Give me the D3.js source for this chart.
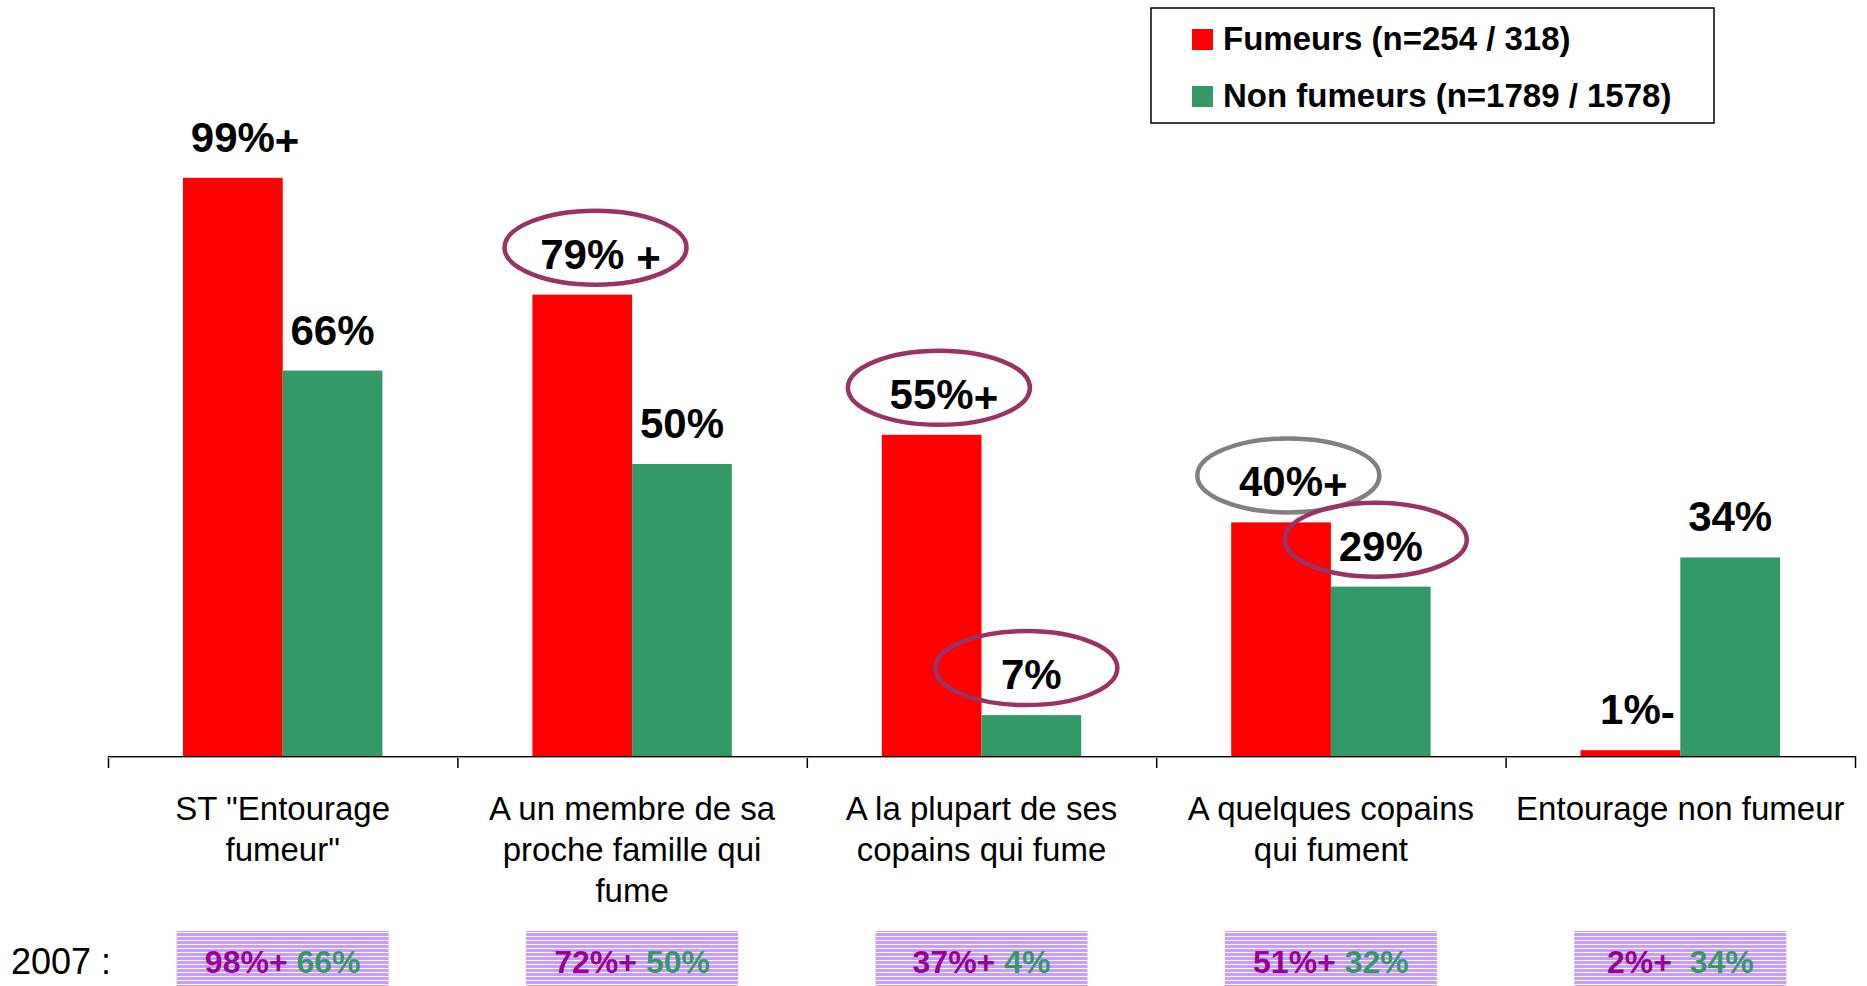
<!DOCTYPE html>
<html>
<head>
<meta charset="utf-8">
<script src="https://cdn.jsdelivr.net/npm/d3@7"></script>
<style>
  body { margin: 0; background: #fff; }
  text { font-family: "Liberation Sans", Arial, sans-serif; }
</style>
</head>
<body>
<script>
// chart values
const categories = ['ST "Entourage fumeur"', 'A un membre de sa proche famille qui fume',
  'A la plupart de ses copains qui fume', 'A quelques copains qui fument', 'Entourage non fumeur']
const categoryLines = [
  ['ST "Entourage', 'fumeur"'],
  ['A un membre de sa', 'proche famille qui', 'fume'],
  ['A la plupart de ses', 'copains qui fume'],
  ['A quelques copains', 'qui fument'],
  ['Entourage non fumeur']
]
const series = ['Fumeurs (n=254 / 318)', 'Non fumeurs (n=1789 / 1578)']
const fumeurs = [99, 79, 55, 40, 1]
const nonFumeurs = [66, 50, 7, 29, 34]
// significance marks written after the value
const fumeursMarks = ['+', ' +', '+', '+', '-']
const nonFumeursMarks = ['', '', '', '', '']
// circled labels : [category index, series index, tone]
const circled = [[1, 0, 'sig'], [2, 0, 'sig'], [2, 1, 'sig'], [3, 0, 'grey'], [3, 1, 'sig']]
// 2007 reminder
const fumeurs2007 = ['98%+', '72%+', '37%+', '51%+', '2%+ ']
const nonFumeurs2007 = ['66%', '50%', '4%', '32%', '34%']
const label2007 = '2007 :'

const W = 1867
const H = 986
const colors = ['#ff0000', '#339966']
const values = [fumeurs, nonFumeurs]
const marks = [fumeursMarks, nonFumeursMarks]

const svg = d3.select('body').append('svg')
  .attr('width', W)
  .attr('height', H)

svg.append('rect').attr('width', W).attr('height', H).attr('fill', '#fff')

// striped lavender fill for the 2007 boxes
const pattern = svg.append('defs').append('pattern')
  .attr('id', 'stripes')
  .attr('patternUnits', 'userSpaceOnUse')
  .attr('width', 8)
  .attr('height', 4)
pattern.append('rect').attr('width', 8).attr('height', 4).attr('fill', '#cc99ff')
pattern.append('rect').attr('width', 8).attr('height', 1).attr('fill', '#fff')

//scales
const x0 = d3.scaleBand()
  .domain(categories)
  .range([108, 1855])

const x1 = d3.scaleBand()
  .domain([0, 1])
  .range([0, x0.bandwidth()])
  .paddingOuter(0.752)

const y = d3.scaleLinear()
  .domain([0, 100])
  .range([756, 172])

const edges = d3.scaleLinear()
  .domain([0, categories.length])
  .range(x0.range())

//bars
const groups = svg.selectAll('g.cat')
  .data(categories)
  .enter()
  .append('g')
  .attr('class', 'cat')
  .attr('transform', d => `translate(${x0(d)},0)`)

groups.selectAll('rect')
  .data((d, i) => values.map((v, s) => ({ s, i, v: v[i] })))
  .enter()
  .append('rect')
  .attr('x', d => x1(d.s))
  .attr('y', d => y(d.v))
  .attr('width', x1.bandwidth())
  .attr('height', d => y(0) - y(d.v))
  .attr('fill', d => colors[d.s])

//axis
const axis = svg.append('g')
  .attr('transform', `translate(0,${y(0)})`)
  .call(d3.axisBottom(edges)
    .tickValues(d3.range(categories.length + 1))
    .tickFormat('')
    .tickSize(12)
    .tickSizeOuter(0))
axis.select('.domain').attr('stroke', '#000').attr('stroke-width', 1.2)
axis.selectAll('.tick line').attr('stroke', '#000').attr('stroke-width', 1.5)
svg.append('line')
  .attr('x1', edges(0)).attr('x2', edges(categories.length))
  .attr('y1', y(0) + 1.5).attr('y2', y(0) + 1.5)
  .attr('stroke', '#999').attr('stroke-width', 1)

//category labels
categories.forEach((c, i) => {
  const t = svg.append('text')
    .attr('text-anchor', 'middle')
    .attr('font-size', 33)
    .attr('fill', '#000')
  categoryLines[i].forEach((line, k) => {
    t.append('tspan')
      .attr('x', x0(c) + x0.bandwidth() / 2)
      .attr('y', 820 + k * 41)
      .text(line)
  })
})

//value labels
const labelPos = {}
categories.forEach((c, i) => {
  values.forEach((v, s) => {
    const cx = x0(c) + x1(s) + x1.bandwidth() / 2
    const base = y(v[i]) - 26
    const main = svg.append('text')
      .attr('x', cx)
      .attr('y', base)
      .attr('text-anchor', 'middle')
      .attr('font-size', 42)
      .attr('font-weight', 'bold')
      .text(v[i] + '%')
    const len = main.node().getComputedTextLength()
    let extra = 0
    const m = marks[s][i]
    if (m) {
      const mk = svg.append('text')
        .attr('x', cx + len / 2 + (m.startsWith(' ') ? 12 : 0))
        .attr('y', base + 3)
        .attr('font-size', 42)
        .attr('font-weight', 'bold')
        .text(m.trim())
      extra = (m.startsWith(' ') ? 12 : 0) + mk.node().getComputedTextLength()
    }
    labelPos[i + '-' + s] = { x: cx + extra / 2, y: base }
  })
})

//circles drawn round some labels
circled.forEach(([i, s, tone]) => {
  const p = labelPos[i + '-' + s]
  svg.append('ellipse')
    .attr('cx', p.x - 5)
    .attr('cy', p.y - 21)
    .attr('rx', 91)
    .attr('ry', 37)
    .attr('fill', 'none')
    .attr('stroke', tone === 'grey' ? '#808080' : '#993366')
    .attr('stroke-width', 4.5)
})

//legend
const legend = svg.append('g')
legend.append('rect')
  .attr('x', 1151).attr('y', 8)
  .attr('width', 563).attr('height', 115)
  .attr('fill', '#fff')
  .attr('stroke', '#000')
  .attr('stroke-width', 1.5)
series.forEach((name, s) => {
  legend.append('rect')
    .attr('x', 1192).attr('y', 29 + s * 57)
    .attr('width', 21).attr('height', 21)
    .attr('fill', colors[s])
  legend.append('text')
    .attr('x', 1223).attr('y', 50 + s * 57)
    .attr('font-size', 33)
    .attr('font-weight', 'bold')
    .text(name)
})

//2007 row
svg.append('text')
  .attr('x', 11).attr('y', 974)
  .attr('font-size', 36)
  .text(label2007)

categories.forEach((c, i) => {
  const cx = x0(c) + x0.bandwidth() / 2
  svg.append('rect')
    .attr('x', cx - 106).attr('y', 931)
    .attr('width', 212).attr('height', 56)
    .attr('fill', 'url(#stripes)')
  const t = svg.append('text')
    .attr('x', cx).attr('y', 973)
    .attr('text-anchor', 'middle')
    .attr('font-size', 32)
    .attr('font-weight', 'bold')
    .attr('xml:space', 'preserve')
    .style('white-space', 'pre')
  t.append('tspan').attr('fill', '#990099').text(fumeurs2007[i])
  t.append('tspan').attr('fill', '#339966').text(' ' + nonFumeurs2007[i])
})
</script>
</body>
</html>
